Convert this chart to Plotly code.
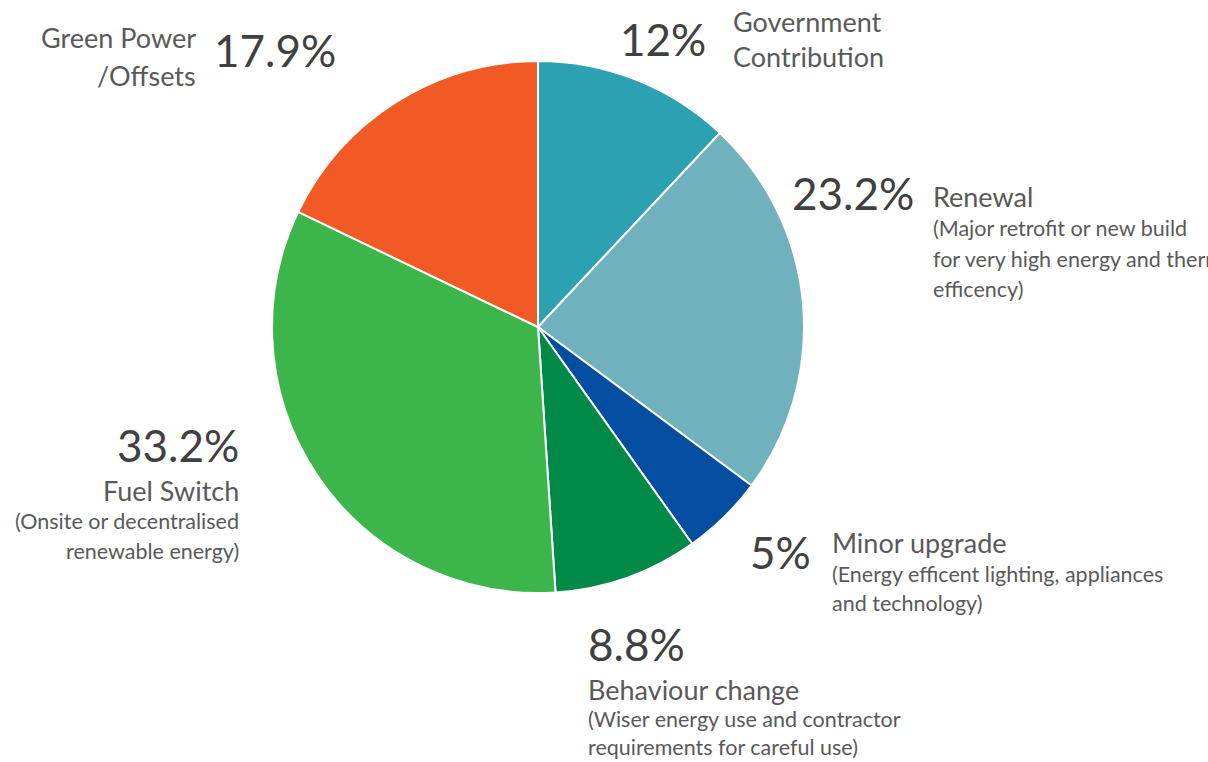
import plotly.graph_objects as go

# Funding share by measure, clockwise from 12 o'clock
categories = ["Government Contribution", "Renewal", "Minor upgrade",
              "Behaviour change", "Fuel Switch", "Green Power /Offsets"]
shares = [12, 23.2, 5, 8.8, 33.2, 17.9]
pct_labels = ["12%", "23.2%", "5%", "8.8%", "33.2%", "17.9%"]
colors = ["#2ba1b1", "#6fb1bc", "#044ea1", "#018a47", "#3cb54a", "#f15a24"]

# Title lines and descriptions shown beside each slice
title_lines = [
    ["Government", "Contribution"],
    ["Renewal"],
    ["Minor upgrade"],
    ["Behaviour change"],
    ["Fuel Switch"],
    ["Green Power", "/Offsets"],
]
desc_lines = [
    [],
    ["(Major retrofit or new build", "for very high energy and thermal", "efficency)"],
    ["(Energy efficent lighting, appliances", "and technology)"],
    ["(Wiser energy use and contractor", "requirements for careful use)"],
    ["(Onsite or decentralised", "renewable energy)"],
    [],
]

W, H = 1208, 762
FONT = "Lato, 'Open Sans', sans-serif"
PCT_COLOR = "#404040"
TXT_COLOR = "#595959"


def px(x):
    return x / W


def py(y):
    return 1 - y / H


fig = go.Figure(go.Pie(
    labels=categories,
    values=shares,
    sort=False,
    direction="clockwise",
    rotation=0,
    marker=dict(colors=colors, line=dict(color="white", width=2)),
    textinfo="none",
    hoverinfo="label+percent",
    showlegend=False,
    domain=dict(x=[px(538 - 266), px(538 + 266)], y=[py(593), py(61)]),
))

annotations = []


def add(text, x, y, size, color, xanchor):
    annotations.append(dict(
        text=text, x=px(x), y=py(y), xref="paper", yref="paper",
        xanchor=xanchor, yanchor="middle", showarrow=False,
        font=dict(family=FONT, size=size, color=color),
    ))


PCT_SIZE = 44
TITLE_SIZE = 27
DESC_SIZE = 21.5

# (percent x, percent y, percent anchor, text x, title y positions, desc y positions, text anchor)
placements = [
    (708, 39, "right", 731, [22, 57], [], "left"),
    (916, 193, "right", 931, [196], [228, 259, 289], "left"),
    (813, 552, "right", 830, [542], [574, 603], "left"),
    (586, 644, "left", 586, [689], [719, 747], "left"),
    (241, 445, "right", 241, [490], [521, 551], "right"),
    (212, 50, "left", 198, [38, 75], [], "right"),
]

for i, (pxx, pyy, panc, tx, tys, dys, tanc) in enumerate(placements):
    add(pct_labels[i], pxx, pyy, PCT_SIZE, PCT_COLOR, panc)
    for line, ty in zip(title_lines[i], tys):
        add(line, tx, ty, TITLE_SIZE, TXT_COLOR, tanc)
    for line, dy in zip(desc_lines[i], dys):
        add(line, tx, dy, DESC_SIZE, TXT_COLOR, tanc)

fig.update_layout(
    width=W, height=H,
    margin=dict(l=0, r=0, t=0, b=0),
    paper_bgcolor="white",
    plot_bgcolor="white",
    annotations=annotations,
)

fig.write_html("out.html")
